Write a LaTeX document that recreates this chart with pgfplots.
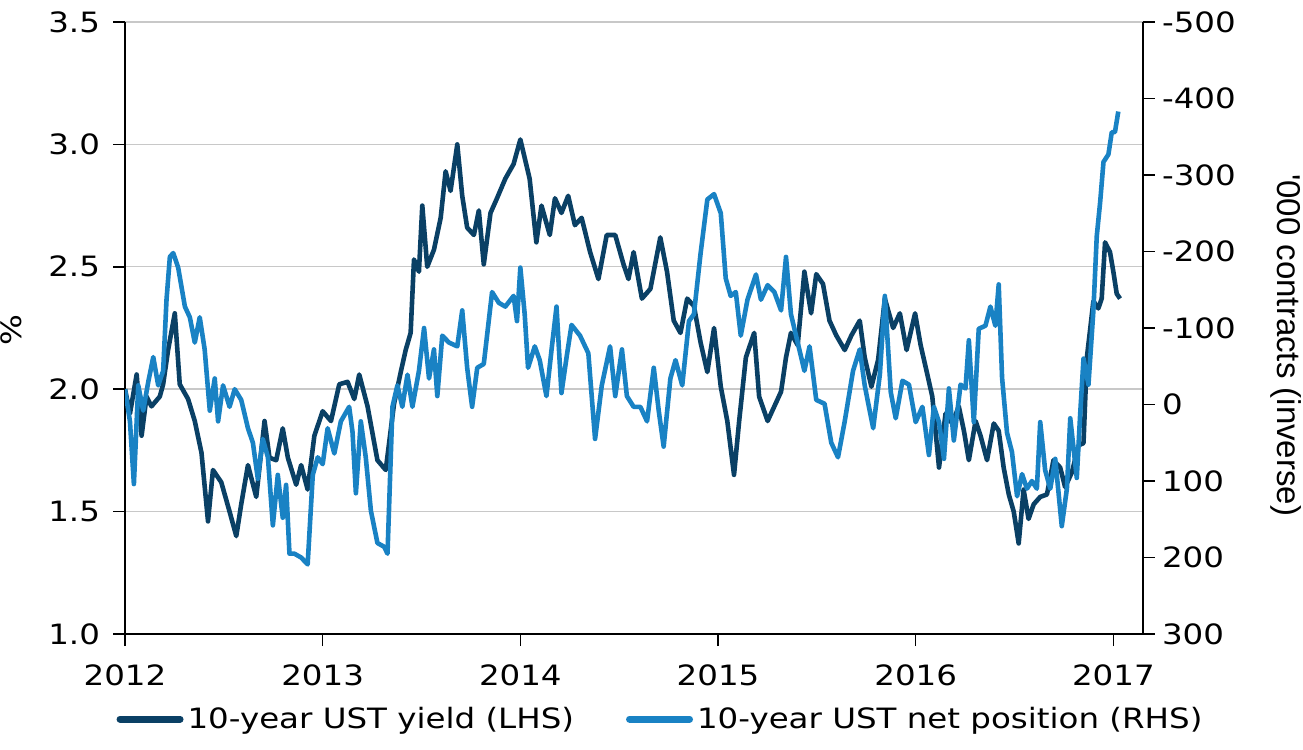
\documentclass[border=0pt]{standalone}
\usepackage{fontspec}
\setmainfont[FakeStretch=1.16]{DejaVu Sans}
\newfontfamily\labelfont{Liberation Sans}
\usepackage{pgfplots}
\pgfplotsset{compat=1.18}

\definecolor{yielddark}{RGB}{10,64,101}
\definecolor{poslight}{RGB}{25,130,196}
\definecolor{gridgray}{RGB}{200,200,200}

\begin{document}
\begin{tikzpicture}
\pgfplotsset{
  base/.style={
    scale only axis, width=509pt, height=306pt,
    at={(0,0)}, anchor=south west,
    xmin=2012, xmax=2017.15,
    font=\fontsize{14}{16}\selectfont,
    tick align=outside, major tick length=6pt,
    tick style={black, line width=0.8pt},
    axis line style={black, line width=1pt, -},
    /pgf/number format/assume math mode=true,
  }
}
% yield, left axis
\begin{axis}[base,
  axis x line*=bottom, axis y line*=left,
  ymin=1, ymax=3.5, ytick={1,1.5,2,2.5,3,3.5},
  ymajorgrids, grid style={gridgray, line width=0.7pt},
  xtick={2012,2013,2014,2015,2016,2017},
  xticklabel style={yshift=-6pt},
  x tick label style={/pgf/number format/1000 sep=},
  yticklabel style={/pgf/number format/.cd, fixed, fixed zerofill, precision=1, /tikz/.cd, xshift=-3pt},
  ylabel={\%},
  ylabel style={at={(axis description cs:-0.112,0.497)}, anchor=center},
]
\addplot[yielddark, line width=2.3pt, line join=round] coordinates {
(2012.000,2.00) (2012.025,1.90) (2012.059,2.06) (2012.084,1.81) (2012.109,1.97)
(2012.134,1.93) (2012.176,1.97) (2012.193,2.02) (2012.218,2.16) (2012.252,2.31)
(2012.277,2.02) (2012.319,1.96) (2012.353,1.87) (2012.387,1.74) (2012.420,1.46)
(2012.445,1.67) (2012.487,1.62) (2012.529,1.50) (2012.563,1.40) (2012.588,1.53)
(2012.622,1.69) (2012.664,1.56) (2012.706,1.87) (2012.731,1.72) (2012.765,1.71)
(2012.798,1.84) (2012.824,1.72) (2012.866,1.61) (2012.891,1.69) (2012.924,1.59)
(2012.958,1.81) (2013.000,1.91) (2013.042,1.87) (2013.084,2.02) (2013.126,2.03)
(2013.160,1.96) (2013.185,2.06) (2013.227,1.93) (2013.277,1.71) (2013.319,1.67)
(2013.361,1.94) (2013.395,2.07) (2013.420,2.16) (2013.445,2.23) (2013.462,2.53)
(2013.487,2.48) (2013.504,2.75) (2013.529,2.50) (2013.563,2.57) (2013.597,2.70)
(2013.622,2.89) (2013.647,2.81) (2013.681,3.00) (2013.706,2.79) (2013.731,2.66)
(2013.765,2.63) (2013.790,2.73) (2013.815,2.51) (2013.849,2.72) (2013.882,2.78)
(2013.924,2.86) (2013.966,2.92) (2014.000,3.02) (2014.047,2.86) (2014.081,2.60)
(2014.107,2.75) (2014.149,2.63) (2014.175,2.78) (2014.208,2.72) (2014.242,2.79)
(2014.276,2.67) (2014.310,2.70) (2014.353,2.56) (2014.395,2.45) (2014.437,2.63)
(2014.480,2.63) (2014.522,2.51) (2014.547,2.45) (2014.573,2.56) (2014.615,2.37)
(2014.658,2.41) (2014.708,2.62) (2014.742,2.48) (2014.776,2.28) (2014.810,2.23)
(2014.844,2.37) (2014.878,2.34) (2014.912,2.19) (2014.946,2.07) (2014.980,2.25)
(2015.014,2.01) (2015.047,1.87) (2015.081,1.65) (2015.107,1.87) (2015.141,2.13)
(2015.183,2.23) (2015.208,1.97) (2015.251,1.87) (2015.285,1.93) (2015.319,1.99)
(2015.344,2.13) (2015.369,2.23) (2015.403,2.18) (2015.437,2.48) (2015.471,2.31)
(2015.497,2.47) (2015.531,2.43) (2015.564,2.28) (2015.598,2.22) (2015.641,2.16)
(2015.675,2.22) (2015.717,2.28) (2015.742,2.13) (2015.776,2.01) (2015.810,2.12)
(2015.844,2.37) (2015.886,2.25) (2015.920,2.31) (2015.954,2.16) (2015.997,2.31)
(2016.025,2.18) (2016.059,2.06) (2016.084,1.97) (2016.118,1.68) (2016.151,1.90)
(2016.185,1.86) (2016.218,1.93) (2016.244,1.83) (2016.269,1.71) (2016.303,1.87)
(2016.328,1.81) (2016.361,1.71) (2016.395,1.86) (2016.420,1.83) (2016.445,1.68)
(2016.471,1.57) (2016.496,1.50) (2016.521,1.37) (2016.546,1.59) (2016.571,1.47)
(2016.597,1.53) (2016.630,1.56) (2016.664,1.57) (2016.697,1.71) (2016.731,1.68)
(2016.756,1.60) (2016.790,1.66) (2016.824,1.77) (2016.849,1.78) (2016.866,2.13)
(2016.882,2.24) (2016.899,2.36) (2016.924,2.33) (2016.941,2.37) (2016.958,2.60)
(2016.983,2.56) (2017.000,2.48) (2017.017,2.39) (2017.034,2.37)
};
\end{axis}
% net position, right axis (inverted)
\begin{axis}[base,
  axis x line=none, axis y line*=right,
  y dir=reverse, ymin=-500, ymax=300, ytick={-500,-400,-300,-200,-100,0,100,200,300},
  ylabel={\labelfont\fontsize{16.5}{18}\selectfont '000 contracts (inverse)},
  ylabel style={at={(axis description cs:1.1405,0.472)}, anchor=center, rotate=180},
  legend style={at={(0.527,-0.139)}, anchor=center, draw=none, fill=none,
    legend columns=2, font=\fontsize{14}{16}\selectfont,
    /tikz/every even column/.append style={column sep=24pt}},
  legend image code/.code={\draw[#1, line width=3.5pt, line cap=round] (0pt,0pt) -- (30pt,0pt);},
]
\addlegendimage{yielddark}
\addlegendentry{10-year UST yield (LHS)}
\addplot[poslight, line width=2.3pt, line join=round] coordinates {
(2012.000,-20) (2012.025,22) (2012.045,104) (2012.067,-25) (2012.092,8)
(2012.118,-30) (2012.143,-62) (2012.168,-25) (2012.193,-44) (2012.210,-137)
(2012.227,-193) (2012.244,-198) (2012.269,-179) (2012.303,-128) (2012.328,-114)
(2012.353,-81) (2012.378,-114) (2012.403,-72) (2012.429,8) (2012.454,-34)
(2012.471,22) (2012.496,-25) (2012.529,3) (2012.555,-20) (2012.588,-6)
(2012.622,31) (2012.647,50) (2012.672,97) (2012.697,45) (2012.723,69)
(2012.748,158) (2012.773,92) (2012.798,148) (2012.815,105) (2012.832,195)
(2012.857,195) (2012.891,200) (2012.924,209) (2012.950,92) (2012.975,69)
(2013.000,78) (2013.025,31) (2013.059,64) (2013.092,22) (2013.134,3)
(2013.151,36) (2013.168,116) (2013.193,22) (2013.218,69) (2013.244,139)
(2013.277,181) (2013.311,186) (2013.328,195) (2013.353,3) (2013.378,-25)
(2013.403,3) (2013.429,-39) (2013.454,3) (2013.487,-44) (2013.513,-100)
(2013.538,-34) (2013.563,-72) (2013.580,-11) (2013.605,-90) (2013.639,-81)
(2013.681,-76) (2013.706,-123) (2013.731,-48) (2013.756,3) (2013.782,-48)
(2013.815,-53) (2013.857,-147) (2013.891,-133) (2013.924,-128) (2013.966,-142)
(2013.983,-109) (2014.000,-179) (2014.022,-118) (2014.039,-48) (2014.073,-76)
(2014.098,-58) (2014.132,-11) (2014.158,-72) (2014.183,-128) (2014.208,-15)
(2014.234,-62) (2014.259,-104) (2014.302,-90) (2014.344,-67) (2014.378,45)
(2014.412,-25) (2014.454,-76) (2014.480,-11) (2014.514,-72) (2014.539,-11)
(2014.573,3) (2014.607,3) (2014.641,22) (2014.675,-48) (2014.700,8)
(2014.725,55) (2014.759,-34) (2014.785,-58) (2014.819,-25) (2014.853,-109)
(2014.878,-118) (2014.912,-198) (2014.946,-268) (2014.980,-275) (2015.014,-250)
(2015.039,-165) (2015.064,-142) (2015.090,-147) (2015.115,-90) (2015.149,-137)
(2015.192,-170) (2015.217,-137) (2015.251,-156) (2015.285,-147) (2015.319,-123)
(2015.344,-193) (2015.369,-118) (2015.403,-81) (2015.437,-44) (2015.463,-76)
(2015.497,-6) (2015.539,-1) (2015.573,50) (2015.607,69) (2015.641,22)
(2015.683,-44) (2015.717,-72) (2015.742,-25) (2015.785,31) (2015.819,-40)
(2015.844,-142) (2015.874,-16) (2015.899,18) (2015.933,-31) (2015.966,-26)
(2016.000,23) (2016.034,3) (2016.067,66) (2016.092,3) (2016.118,23)
(2016.143,71) (2016.168,-21) (2016.193,47) (2016.227,-26) (2016.252,-21)
(2016.269,-84) (2016.294,23) (2016.319,-99) (2016.353,-103) (2016.378,-128)
(2016.403,-103) (2016.420,-157) (2016.437,-35) (2016.462,37) (2016.487,62)
(2016.513,120) (2016.538,91) (2016.563,110) (2016.588,100) (2016.613,110)
(2016.630,23) (2016.655,86) (2016.681,110) (2016.706,71) (2016.739,159)
(2016.765,110) (2016.782,18) (2016.815,96) (2016.832,13) (2016.849,-60)
(2016.874,-26) (2016.899,-123) (2016.916,-220) (2016.933,-264) (2016.950,-317)
(2016.975,-327) (2016.992,-356) (2017.008,-356) (2017.025,-383)
};
\addlegendentry{10-year UST net position (RHS)}
\end{axis}
\pgfresetboundingbox
\path (-62.5pt,-58pt) rectangle (589pt,317pt);
\end{tikzpicture}
\end{document}
